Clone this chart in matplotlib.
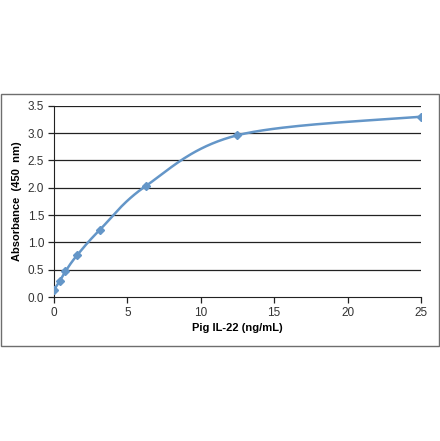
import numpy as np
import matplotlib
matplotlib.use("Agg")
import matplotlib.pyplot as plt
from matplotlib.patches import Rectangle

plt.rcParams['font.family'] = ['Liberation Sans', 'DejaVu Sans']

# Data
conc = [0, 0.39, 0.78, 1.56, 3.125, 6.25, 12.5, 25]
absorb = [0.13, 0.29, 0.47, 0.76, 1.23, 2.03, 2.96, 3.30]
xticks = [0, 5, 10, 15, 20, 25]
yticks = [0.0, 0.5, 1.0, 1.5, 2.0, 2.5, 3.0, 3.5]

line_col = '#6496c8'


def smooth_curve(xs, ys, n=40):
    # bezier smoothing like a spreadsheet "smoothed line"
    p = np.column_stack([xs, ys]).astype(float)
    out = []
    for i in range(len(p) - 1):
        p0 = p[i - 1] if i > 0 else p[i]
        p3 = p[i + 2] if i + 2 < len(p) else p[i + 1]
        c1 = p[i] + (p[i + 1] - p0) / 6
        c2 = p[i + 1] - (p3 - p[i]) / 6
        t = np.linspace(0, 1, n)[:, None]
        seg = ((1 - t) ** 3 * p[i] + 3 * (1 - t) ** 2 * t * c1
               + 3 * (1 - t) * t ** 2 * c2 + t ** 3 * p[i + 1])
        out.append(seg)
    out = np.vstack(out)
    return out[:, 0], out[:, 1]


fig = plt.figure(figsize=(4.4, 4.41), dpi=100)
fig.patches.append(Rectangle((0.003, 0.215), 0.994, 0.572, transform=fig.transFigure,
                             fill=False, edgecolor='#6e6e6e', lw=1.0))

ax = fig.add_axes([0.1227, 0.3265, 0.834, 0.4338])
sx, sy = smooth_curve(conc, absorb)
ax.plot(sx, sy, color=line_col, lw=1.8, zorder=3)
ax.plot(conc, absorb, ls='none', marker='D', ms=4.5, color=line_col, zorder=4)

ax.set_xlim(0, 25)
ax.set_ylim(0, 3.5)
ax.set_xticks(xticks)
ax.set_yticks(yticks)
ax.set_yticklabels([f'{v:.1f}' for v in yticks])
for v in yticks[1:]:
    ax.axhline(v, color='#222222', lw=0.9, zorder=1)

for s in ['top', 'right']:
    ax.spines[s].set_visible(False)
ax.spines['left'].set_color('#222222')
ax.spines['bottom'].set_color('#222222')
ax.tick_params(axis='both', direction='out', length=4, width=0.9, labelsize=8.5,
               colors='#222222', labelcolor='#333333', pad=3)

ax.set_xlabel('Pig IL-22 (ng/mL)', fontsize=8, fontweight='bold', labelpad=3)
ax.set_ylabel('Absorbance  (450  nm)', fontsize=8, fontweight='bold', labelpad=4)

fig.savefig('out.png', dpi=100)
